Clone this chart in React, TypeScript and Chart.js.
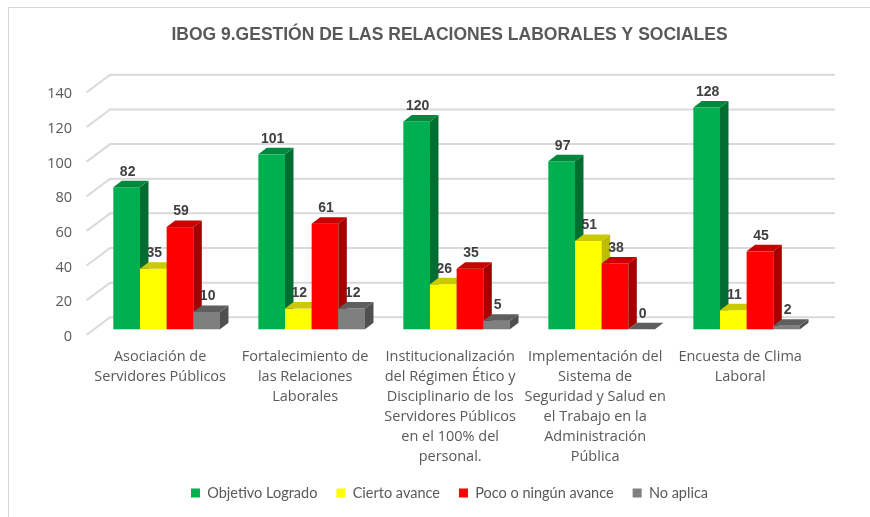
import React, { useEffect, useRef } from "react";
import { Chart, registerables } from "chart.js";

Chart.register(...registerables);

const TITLE = "IBOG 9.GESTIÓN DE LAS RELACIONES LABORALES Y SOCIALES";

const CATEGORIES: string[][] = [
  ["Asociación de", "Servidores Públicos"],
  ["Fortalecimiento de", "las Relaciones", "Laborales"],
  ["Institucionalización", "del Régimen Ético y", "Disciplinario de los", "Servidores Públicos", "en el 100% del", "personal."],
  ["Implementación del", "Sistema de", "Seguridad y Salud en", "el Trabajo en la", "Administración", "Pública"],
  ["Encuesta de Clima", "Laboral"],
];

const SERIES_NAMES = ["Objetivo Logrado", "Cierto avance", "Poco o ningún avance", "No aplica"];
const OBJETIVO_LOGRADO = [82, 101, 120, 97, 128];
const CIERTO_AVANCE = [35, 12, 26, 51, 11];
const POCO_AVANCE = [59, 61, 35, 38, 45];
const NO_APLICA = [10, 12, 5, 0, 2];

const Y_MIN = 0;
const Y_MAX = 140;
const Y_STEP = 20;

const FRONT_COLORS = ["#00B050", "#FFFF00", "#FF0000", "#7F7F7F"];
const SIDE_COLORS = ["#006E30", "#BDBD00", "#A60000", "#4F4F4F"];
const TOP_COLORS = ["#00893C", "#CACA00", "#C80000", "#5E5E5E"];

const DX = 8.5;
const DY = -6.5;

const bar3dPlugin = {
  id: "bar3d",
  beforeDatasetsDraw(chart: any) {
    const { ctx, chartArea, scales } = chart;
    const ys = scales.y;
    ctx.save();
    // 3D wall gridlines
    ctx.strokeStyle = "#D9D9D9";
    ctx.lineWidth = 2;
    for (let v = Y_MIN; v <= Y_MAX; v += Y_STEP) {
      const yb = ys.getPixelForValue(v);
      ctx.beginPath();
      ctx.moveTo(chartArea.left - 7.5, yb + 5.5);
      ctx.lineTo(chartArea.left + 16, yb - 12);
      ctx.lineTo(chartArea.right + 16, yb - 12);
      ctx.stroke();
    }
    // bars, left to right within each group
    chart.data.datasets.forEach((_ds: any, i: number) => {
      const meta = chart.getDatasetMeta(i);
      meta.data.forEach((el: any) => {
        const { x, y, base, width } = el.getProps(["x", "y", "base", "width"], true);
        const x0 = x - width / 2;
        const x1 = x + width / 2;
        ctx.fillStyle = FRONT_COLORS[i];
        ctx.fillRect(x0, y, width, base - y);
        ctx.fillStyle = SIDE_COLORS[i];
        ctx.beginPath();
        ctx.moveTo(x1, y);
        ctx.lineTo(x1 + DX, y + DY);
        ctx.lineTo(x1 + DX, base + DY);
        ctx.lineTo(x1, base);
        ctx.closePath();
        ctx.fill();
        ctx.fillStyle = TOP_COLORS[i];
        ctx.beginPath();
        ctx.moveTo(x0, y);
        ctx.lineTo(x1, y);
        ctx.lineTo(x1 + DX, y + DY);
        ctx.lineTo(x0 + DX, y + DY);
        ctx.closePath();
        ctx.fill();
      });
    });
    // value labels
    ctx.font = "bold 14px 'Liberation Sans', Arial, sans-serif";
    ctx.fillStyle = "#404040";
    ctx.textAlign = "center";
    ctx.textBaseline = "middle";
    chart.data.datasets.forEach((ds: any, i: number) => {
      const meta = chart.getDatasetMeta(i);
      meta.data.forEach((el: any, j: number) => {
        const { x, y } = el.getProps(["x", "y"], true);
        ctx.fillText(String(ds.data[j]), x + 1, y - 15.5);
      });
    });
    ctx.restore();
    return false;
  },
};

export default function App() {
  const ref = useRef<HTMLCanvasElement | null>(null);
  useEffect(() => {
    if (!ref.current) return;
    const values = [OBJETIVO_LOGRADO, CIERTO_AVANCE, POCO_AVANCE, NO_APLICA];
    const chart = new Chart(ref.current, {
      type: "bar",
      data: {
        labels: CATEGORIES,
        datasets: values.map((d, i) => ({
          label: SERIES_NAMES[i],
          data: d,
          backgroundColor: FRONT_COLORS[i],
          borderWidth: 0,
          categoryPercentage: 0.7356,
          barPercentage: 1,
        })),
      },
      options: {
        animation: false,
        responsive: true,
        maintainAspectRatio: false,
        layout: { padding: { left: 39, right: 10, top: 10, bottom: 6.7 } },
        plugins: {
          title: {
            display: true,
            text: TITLE,
            color: "#595959",
            font: { family: "'Liberation Sans', Arial, sans-serif", size: 17.5, weight: "bold", lineHeight: 1.2 },
            padding: { top: 14.5, bottom: 41.3 },
          },
          legend: {
            position: "bottom",
            labels: {
              boxWidth: 9,
              boxHeight: 9,
              padding: 19,
              color: "#595959",
              font: { family: "Lato, 'Noto Sans', sans-serif", size: 14.5 },
            },
          },
          tooltip: { enabled: false },
        },
        scales: {
          x: {
            grid: { display: false, drawTicks: false },
            border: { display: false },
            ticks: {
              color: "#595959",
              padding: 18,
              labelOffset: -6.5,
              maxRotation: 0,
              autoSkip: false,
              font: { family: "'Open Sans', 'Noto Sans', sans-serif", size: 14.5, lineHeight: 20 / 14.5 },
            },
            afterFit: (s: any) => {
              s.height = 137.5;
            },
          },
          y: {
            min: Y_MIN,
            max: Y_MAX,
            grid: { display: false, drawTicks: false },
            border: { display: false },
            ticks: {
              stepSize: Y_STEP,
              color: "#595959",
              padding: 22,
              labelOffset: 7.5,
              font: { family: "'Open Sans', 'Noto Sans', sans-serif", size: 14.5 },
            },
            afterFit: (s: any) => {
              s.width = 55.15;
            },
          },
          y2: {
            position: "right",
            display: true,
            grid: { display: false, drawTicks: false },
            border: { display: false },
            ticks: { display: false },
            afterFit: (s: any) => {
              s.width = 40.85;
            },
          },
        },
      },
      plugins: [bar3dPlugin],
    } as any);
    return () => chart.destroy();
  }, []);

  return (
    <div style={{ position: "absolute", left: 0, top: 0, width: 870, height: 517, background: "#fff" }}>
      <canvas ref={ref} />
      <div
        style={{
          position: "absolute",
          left: 8,
          top: 7,
          right: 0,
          bottom: 0,
          borderLeft: "1px solid #D5D5D5",
          borderTop: "1px solid #D5D5D5",
          pointerEvents: "none",
        }}
      />
    </div>
  );
}
